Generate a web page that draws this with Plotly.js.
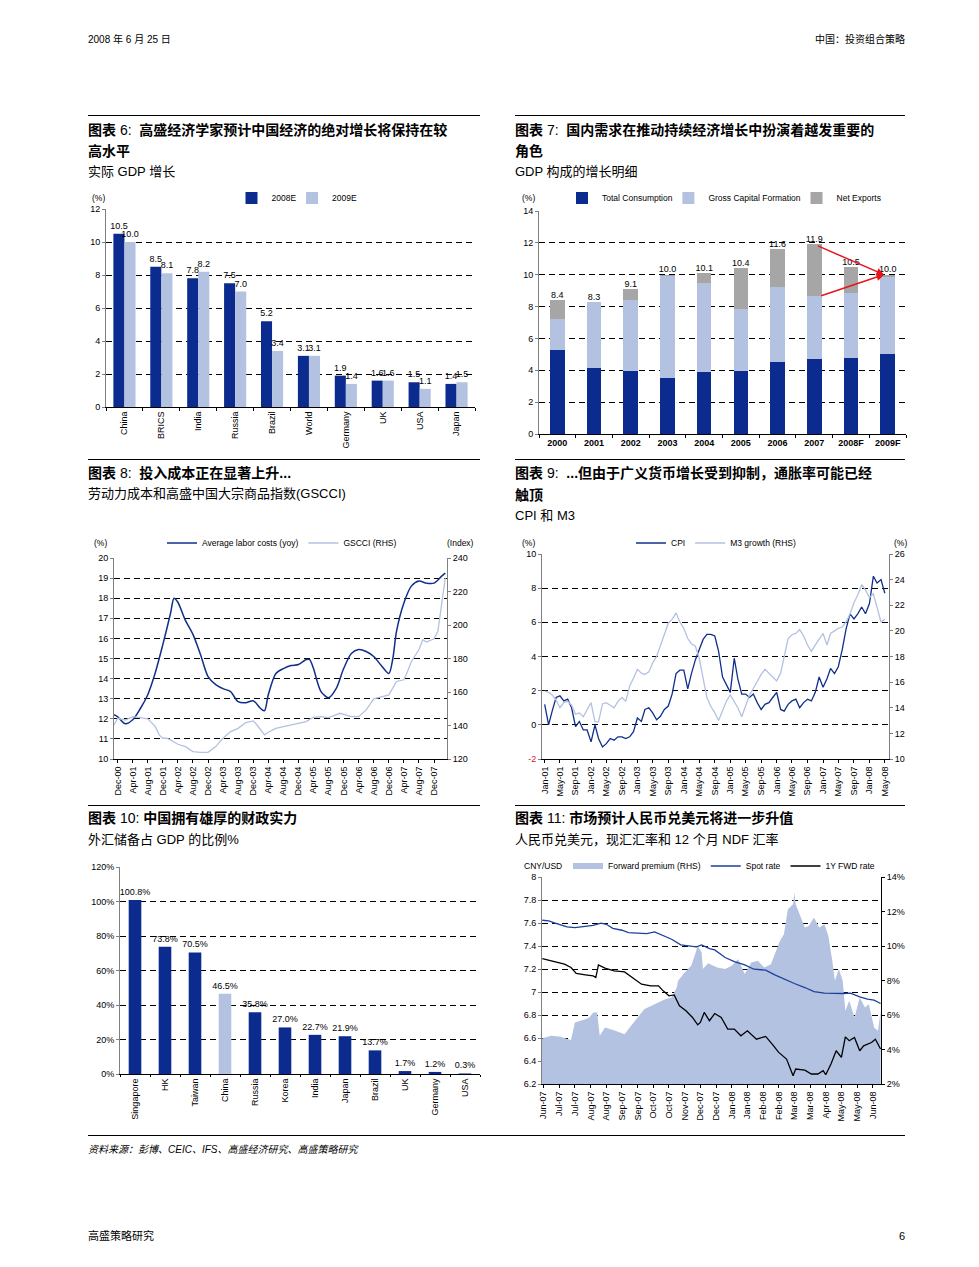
<!DOCTYPE html>
<html><head><meta charset="utf-8">
<script src="https://cdn.plot.ly/plotly-3.0.1.min.js"></script>
<style>
html,body{margin:0;padding:0;background:#fff;}
body{width:979px;height:1267px;position:relative;overflow:hidden;font-family:"Liberation Sans","Noto Sans CJK SC",sans-serif;color:#000;}
.t{position:absolute;white-space:nowrap;line-height:1;}
.b{font-weight:bold;font-size:14px;font-family:"Liberation Sans","Noto Sans CJK SC",sans-serif;}
.s{font-size:13px;}
.n{font-weight:normal;}
.r{position:absolute;border-top:1.6px solid #000;height:0;}
.c{position:absolute;}
</style></head><body>
<div class="t" style="left:88px;top:35px;font-size:10px;">2008 年 6 月 25 日</div>
<div class="t" style="right:74px;top:35px;font-size:10px;">中国：投资组合策略</div>

<div class="r" style="left:88px;top:115px;width:392px;"></div>
<div class="r" style="left:515px;top:115px;width:390px;"></div>
<div class="t b" style="left:88px;top:123px;">图表 <span class="n">6:</span>&nbsp; 高盛经济学家预计中国经济的绝对增长将保持在较</div>
<div class="t b" style="left:88px;top:144px;">高水平</div>
<div class="t s" style="left:88px;top:165px;">实际 GDP 增长</div>
<div class="t b" style="left:515px;top:123px;">图表 <span class="n">7:</span>&nbsp; 国内需求在推动持续经济增长中扮演着越发重要的</div>
<div class="t b" style="left:515px;top:144px;">角色</div>
<div class="t s" style="left:515px;top:165px;">GDP 构成的增长明细</div>

<div class="r" style="left:88px;top:459px;width:392px;"></div>
<div class="r" style="left:515px;top:459px;width:390px;"></div>
<div class="t b" style="left:88px;top:466px;">图表 <span class="n">8:</span>&nbsp; 投入成本正在显著上升...</div>
<div class="t s" style="left:88px;top:487px;">劳动力成本和高盛中国大宗商品指数(GSCCI)</div>
<div class="t b" style="left:515px;top:466px;">图表 <span class="n">9:</span>&nbsp; ...但由于广义货币增长受到抑制，通胀率可能已经</div>
<div class="t b" style="left:515px;top:488px;">触顶</div>
<div class="t s" style="left:515px;top:509px;">CPI 和 M3</div>

<div class="r" style="left:88px;top:805px;width:392px;"></div>
<div class="r" style="left:515px;top:805px;width:390px;"></div>
<div class="t b" style="left:88px;top:811px;">图表 <span class="n">10:</span> 中国拥有雄厚的财政实力</div>
<div class="t s" style="left:88px;top:833px;">外汇储备占 GDP 的比例%</div>
<div class="t b" style="left:515px;top:811px;">图表 <span class="n">11:</span> 市场预计人民币兑美元将进一步升值</div>
<div class="t s" style="left:515px;top:833px;">人民币兑美元，现汇汇率和 12 个月 NDF 汇率</div>

<div class="r" style="left:88px;top:1135px;width:817px;"></div>
<div class="t" style="left:88px;top:1145px;font-size:10px;font-style:italic;">资料来源：彭博、CEIC、IFS、高盛经济研究、高盛策略研究</div>
<div class="t" style="left:88px;top:1231px;font-size:11px;">高盛策略研究</div>
<div class="t" style="right:74px;top:1231px;font-size:11px;">6</div>

<div id="c6" class="c"></div>
<div id="c7" class="c"></div>
<div id="c8" class="c"></div>
<div id="c9" class="c"></div>
<div id="c10" class="c"></div>
<div id="c11" class="c"></div>

<script>
// ---------- DATA ----------
// Chart 6
const gdpCountries = ['China','BRICS','India','Russia','Brazil','World','Germany','UK','USA','Japan'];
const gdp2008E = [10.5,8.5,7.8,7.5,5.2,3.1,1.9,1.6,1.5,1.4];
const gdp2009E = [10.0,8.1,8.2,7.0,3.4,3.1,1.4,1.6,1.1,1.5];

// Chart 7
const gdpYears = ['2000','2001','2002','2003','2004','2005','2006','2007','2008F','2009F'];
const totalConsumption = [5.3,4.15,3.95,3.5,3.9,3.95,4.5,4.7,4.8,5.05];
const grossCapital = [1.9,4.15,4.45,6.4,5.55,3.9,4.7,3.95,4.05,4.8];
const netExports = [1.2,0.0,0.7,0.1,0.65,2.55,2.4,3.25,1.65,0.15];
const gdpTotal = [8.4,8.3,9.1,10.0,10.1,10.4,11.6,11.9,10.5,10.0];

// Chart 8
const laborMonths = ['2000-11','2000-12','2001-02','2001-04','2001-06','2001-08','2001-10','2001-12','2002-02','2002-03','2002-04','2002-06','2002-08','2002-10','2002-12','2003-02','2003-04','2003-06','2003-08','2003-10','2003-12','2004-02','2004-03','2004-04','2004-06','2004-08','2004-10','2004-12','2005-02','2005-03','2005-04','2005-06','2005-08','2005-10','2005-12','2006-02','2006-04','2006-06','2006-08','2006-10','2006-12','2007-01','2007-02','2007-04','2007-06','2007-08','2007-10','2007-12','2008-02','2008-03'];
const laborCost = [12.2,12.1,11.75,11.95,12.5,13.2,14.3,15.7,17.25,18.0,17.8,16.9,16.2,15.2,14.1,13.7,13.5,13.35,12.85,12.8,12.9,12.5,12.4,13.2,14.25,14.5,14.65,14.7,14.95,14.95,14.5,13.35,13.05,13.5,14.5,15.25,15.45,15.35,15.1,14.65,14.25,14.95,16.35,17.75,18.6,18.85,18.75,18.75,19.1,19.25];
const gscciMonths = ['2000-11','2000-12','2001-02','2001-04','2001-06','2001-08','2001-10','2001-11','2001-12','2002-01','2002-02','2002-04','2002-06','2002-08','2002-10','2002-12','2003-02','2003-04','2003-06','2003-08','2003-10','2003-12','2004-01','2004-03','2004-04','2004-06','2004-08','2004-10','2004-12','2005-02','2005-04','2005-06','2005-08','2005-10','2005-11','2005-12','2006-02','2006-04','2006-06','2006-08','2006-10','2006-12','2007-02','2007-04','2007-05','2007-06','2007-08','2007-09','2007-10','2007-12','2008-01','2008-02','2008-03'];
const gscci = [140.3,144.3,143.3,145.3,144.7,144,139.3,134.4,132.4,132.4,131.4,128.8,127.4,124.4,124,124,127.4,132.4,136.4,138.3,141.7,142.7,140.3,134.4,136,138.3,139.3,140.3,141.3,142.3,144.9,145.3,144.7,146.3,147.3,146.7,145.3,145.3,149.3,155.9,156.9,158.3,166.3,167.3,172.2,178.2,185.2,191.2,189.8,191.8,196.1,211.1,228];

// Chart 9 (monthly from Jan-01)
const cpi = [1.2,0.0,0.8,1.6,1.7,1.4,1.5,1.0,-0.1,0.2,-0.3,-0.3,
  -1.0,0.0,-0.8,-1.3,-1.1,-0.8,-0.9,-0.7,-0.7,-0.8,-0.7,-0.4,
  0.4,0.2,0.9,1.0,0.7,0.3,0.5,0.9,1.1,1.8,3.0,3.2,
  3.2,2.1,3.0,3.8,4.4,5.0,5.3,5.3,5.2,4.3,2.8,2.4,
  1.9,3.9,2.7,1.8,1.8,1.6,1.8,1.3,0.9,1.2,1.3,1.6,
  1.9,0.9,0.8,1.2,1.4,1.5,1.0,1.3,1.5,1.4,1.9,2.8,
  2.2,2.7,3.3,3.0,3.4,4.4,5.6,6.5,6.2,6.5,6.9,6.5,
  7.1,8.7,8.3,8.5,7.7];
const m3Growth = [15.3,15.2,15.0,14.6,14.0,14.4,14.5,14.2,13.5,13.6,13.3,13.8,
  14.4,12.9,12.9,14.3,14.4,14.2,14.0,14.5,14.8,14.5,15.7,16.3,
  17.0,16.7,16.6,16.8,17.5,18.0,18.9,19.8,20.6,20.9,21.4,20.7,
  20.2,19.4,19.0,18.8,17.9,16.3,14.8,14.1,13.6,13.0,13.7,14.5,
  15.0,14.5,14.0,13.3,14.2,15.0,15.5,16.1,16.6,17.0,16.7,16.4,
  16.1,16.7,17.9,19.4,19.7,19.8,20.1,19.6,18.9,18.4,18.9,19.3,
  19.8,18.9,19.8,20.0,20.2,20.3,20.7,21.3,22.2,22.8,23.6,23.2,
  22.6,22.9,21.9,20.7,20.9];
const cpiTickVals = [-2,0,2,4,6,8,10];
const cpiTickText = ['<span style="color:#e0141c">-2</span>','0','2','4','6','8','10'];

// Chart 10
const reserveCountries = ['Singapore','HK','Taiwan','China','Russia','Korea','India','Japan','Brazil','UK','Germany','USA'];
const reserveShare = [100.8,73.8,70.5,46.5,35.8,27.0,22.7,21.9,13.7,1.7,1.2,0.3];

// Chart 11 (x = trading-day index from mid-Jun-07)
const fxTickLabels = ['Jun-07','Jul-07','Jul-07','Aug-07','Aug-07','Sep-07','Sep-07','Oct-07','Oct-07','Nov-07','Dec-07','Dec-07','Jan-08','Jan-08','Feb-08','Feb-08','Mar-08','Mar-08','Apr-08','May-08','May-08','Jun-08'];
const spotDay = [-1,4,10,18,24,32,38,44,48,53,60,65,72,79,85,91,98,105,112,117,121,127,131,139,146,154,161,170,177,184,192,200,207,215,223,230,235,242,248,253,258];
const spotRate = [7.624,7.618,7.595,7.566,7.56,7.569,7.58,7.598,7.589,7.554,7.537,7.517,7.511,7.508,7.522,7.493,7.459,7.41,7.401,7.392,7.41,7.378,7.366,7.3,7.265,7.236,7.198,7.19,7.149,7.111,7.074,7.039,7.004,6.99,6.987,6.987,6.99,6.958,6.938,6.929,6.9];
const fwdDay = [-1,4,10,16,21,25,32,38,40,42,47,54,62,68,75,82,88,91,96,100,104,109,114,118,120,123,127,131,136,141,146,151,156,163,170,175,180,186,189,191,193,200,205,210,214,216,220,224,228,231,234,238,242,245,251,254,258];
const fwdRate = [7.291,7.276,7.256,7.242,7.213,7.161,7.149,7.14,7.126,7.236,7.207,7.184,7.175,7.126,7.068,7.054,7.054,7.016,6.967,6.975,6.88,6.836,6.779,6.715,6.735,6.822,6.75,6.813,6.779,6.677,6.677,6.619,6.663,6.59,6.614,6.547,6.475,6.417,6.33,6.272,6.33,6.321,6.287,6.287,6.316,6.281,6.373,6.489,6.431,6.61,6.576,6.605,6.489,6.532,6.561,6.59,6.504];
const premDay = [-2,1,6,13,19,21,24,32,35,38,41,43,47,55,62,67,72,77,85,93,98,102,103,108,113,116,118,121,122,126,130,133,139,144,149,154,159,164,169,174,177,181,184,187,191,192,193,196,200,203,207,211,215,218,221,223,226,229,231,234,238,242,246,249,253,256,258];
const fwdPremium = [4.6,4.7,4.8,4.74,4.6,4.55,5.57,5.76,5.86,6.15,6.15,4.8,5.28,5.09,4.89,5.38,5.86,6.34,6.63,6.92,7.02,7.59,7.98,8.46,8.85,9.52,10.0,9.62,8.66,9.0,8.85,8.75,8.66,8.85,9.23,8.37,9.04,9.14,8.75,8.94,9.52,10.3,10.68,12.13,12.42,13.1,12.42,11.84,11.07,11.16,11.65,11.07,11.26,10.58,9.14,7.98,8.66,7.98,6.24,6.82,5.86,7.02,6.44,6.63,5.28,5.09,6.24];

// ---------- STYLE / HELPERS ----------
const F = '"Liberation Sans", Arial, "Noto Sans CJK SC", sans-serif';
const NAVY = '#0b2c8e', LIGHT = '#b3c2e0', GREY = '#a6a6a6', RED = '#e8141c';
const TF = {size:9, family:F, color:'#000'};
const LF = {size:8.5, family:F, color:'#000'};
const CFG = {staticPlot:true, displayModeBar:false};
const DASH = '6px,4px';
const _cv = document.createElement('canvas').getContext('2d');
function textW(text, size){ _cv.font = size + 'px "Liberation Sans"'; return _cv.measureText(text).width; }
// tighter legend entry for square (bar / area) symbols
function sqW(name){ return Math.max(5, textW(name, LF.size) - 9); }

function place(id, d, box){
  const el = document.getElementById(id);
  el.style.left = d.left+'px'; el.style.top = d.top+'px';
  el.style.width = d.w+'px'; el.style.height = d.h+'px';
  return {l:box.x0-d.left, r:d.left+d.w-box.x1, t:box.y0-d.top, b:d.top+d.h-box.y1, pad:0, autoexpand:false};
}
function pp(box, px, py){ return {x:(px-box.x0)/(box.x1-box.x0), y:(box.y1-py)/(box.y1-box.y0)}; }
function pageText(box, text, px, py, xanchor){
  const p = pp(box, px, py);
  return {text:text, x:p.x, y:p.y, xref:'paper', yref:'paper', xanchor:xanchor||'left', yanchor:'middle', showarrow:false, font:LF};
}
function legendAt(box, px, py){
  const p = pp(box, px, py);
  return {orientation:'h', x:p.x, xanchor:'center', y:p.y, yanchor:'middle', font:LF, bgcolor:'rgba(0,0,0,0)', itemwidth:30, tracegroupgap:0, traceorder:'normal'};
}
function axis(extra){
  return Object.assign({showline:true, linecolor:'#808080', linewidth:1, ticks:'outside', ticklen:3, tickcolor:'#808080', tickfont:TF, showgrid:false, zeroline:false, fixedrange:true}, extra);
}
const GRID = {showgrid:true, gridcolor:'#000', gridwidth:1, griddash:DASH};
function base(id, d, box, extra){
  return Object.assign({width:d.w, height:d.h, margin:place(id, d, box), paper_bgcolor:'rgba(0,0,0,0)', plot_bgcolor:'rgba(0,0,0,0)', font:TF, showlegend:true}, extra);
}

// ---------- CHART 6 ----------
(function(){
  const d = {left:80, top:190, w:410, h:270}, box = {x0:106, x1:475, y0:209, y1:407};
  const fmt = a => a.map(v => v.toFixed(1));
  const traces = [
    {type:'bar', name:'2008E', x:gdpCountries, y:gdp2008E, marker:{color:NAVY}, text:fmt(gdp2008E), textposition:'outside', textfont:TF, cliponaxis:false, constraintext:'none', legendwidth:sqW('2008E')},
    {type:'bar', name:'2009E', x:gdpCountries, y:gdp2009E, marker:{color:LIGHT}, text:fmt(gdp2009E), textposition:'outside', textfont:TF, cliponaxis:false, constraintext:'none'}
  ];
  const layout = base('c6', d, box, {barmode:'group', bargap:0.4, bargroupgap:0,
    legend: legendAt(box, 297, 198),
    xaxis: axis({type:'category', tickangle:-90, linecolor:'#000', tickcolor:'#000', tickson:'boundaries'}),
    yaxis: axis(Object.assign({range:[0,12], dtick:2}, GRID)),
    annotations:[pageText(box, '(%)', 90, 198)]
  });
  Plotly.newPlot('c6', traces, layout, CFG);
})();

// ---------- CHART 7 ----------
(function(){
  const d = {left:505, top:190, w:410, h:270}, box = {x0:539, x1:906, y0:211, y1:434};
  const traces = [
    {type:'bar', name:'Total Consumption', x:gdpYears, y:totalConsumption, marker:{color:NAVY}, legendwidth:sqW('Total Consumption')},
    {type:'bar', name:'Gross Capital Formation', x:gdpYears, y:grossCapital, marker:{color:LIGHT}, legendwidth:sqW('Gross Capital Formation')},
    {type:'bar', name:'Net Exports', x:gdpYears, y:netExports, marker:{color:GREY}},
    {type:'scatter', mode:'text', x:gdpYears, y:gdpTotal, text:gdpTotal.map(v=>v.toFixed(1)), textposition:'top center', textfont:TF, showlegend:false, cliponaxis:false}
  ];
  const i07 = gdpYears.indexOf('2007'), i09 = gdpYears.indexOf('2009F');
  const arrowBase = {xref:'x', yref:'y', axref:'x', ayref:'y', showarrow:true, arrowhead:2, arrowsize:1, arrowwidth:1.5, arrowcolor:RED, text:''};
  const layout = base('c7', d, box, {barmode:'stack', bargap:0.6,
    legend: legendAt(box, 724, 198),
    xaxis: axis({type:'category', linecolor:'#000', tickcolor:'#000', tickson:'boundaries', tickfont:{size:9, family:F, color:'#000', weight:'bold'}}),
    yaxis: axis(Object.assign({range:[0,14], dtick:2}, GRID)),
    annotations:[pageText(box, '(%)', 520, 198),
      Object.assign({x:i09-0.1, y:gdpTotal[i09], ax:i07+0.06, ay:gdpTotal[i07]-0.05}, arrowBase),
      Object.assign({x:i09-0.1, y:gdpTotal[i09], ax:i07+0.15, ay:totalConsumption[i07]+grossCapital[i07]}, arrowBase)]
  });
  Plotly.newPlot('c7', traces, layout, CFG);
})();

// ---------- CHART 8 ----------
(function(){
  const d = {left:80, top:535, w:410, h:270}, box = {x0:114, x1:447, y0:558, y1:759};
  const traces = [
    {type:'scatter', mode:'lines', name:'Average labor costs (yoy)', x:laborMonths, y:laborCost, line:{color:'#102f8a', width:1.5, shape:'spline', smoothing:0.8}},
    {type:'scatter', mode:'lines', name:'GSCCI (RHS)', x:gscciMonths, y:gscci, yaxis:'y2', line:{color:LIGHT, width:1.3}}
  ];
  const layout = base('c8', d, box, {
    legend: legendAt(box, 282, 543),
    xaxis: axis({type:'date', range:['2000-11-01','2008-03-15'], tick0:'2000-12-01', dtick:'M4', tickformat:'%b-%y', tickangle:-90, linecolor:'#000', tickcolor:'#000'}),
    yaxis: axis(Object.assign({range:[10,20], dtick:1}, GRID)),
    yaxis2: axis({range:[120,240], dtick:20, overlaying:'y', side:'right'}),
    annotations:[pageText(box, '(%)', 92, 543), pageText(box, '(Index)', 476, 543, 'right')]
  });
  Plotly.newPlot('c8', traces, layout, CFG);
})();

// ---------- CHART 9 ----------
(function(){
  const d = {left:505, top:535, w:410, h:270}, box = {x0:542, x1:889, y0:554, y1:759};
  function months(n){ const out=[]; for(let i=0;i<n;i++){ const y=2001+Math.floor(i/12), m=i%12+1; out.push(y+'-'+(m<10?'0':'')+m+'-01'); } return out; }
  const traces = [
    {type:'scatter', mode:'lines', name:'CPI', x:months(cpi.length), y:cpi, line:{color:'#102f8a', width:1.3}},
    {type:'scatter', mode:'lines', name:'M3 growth (RHS)', x:months(m3Growth.length), y:m3Growth, yaxis:'y2', line:{color:LIGHT, width:1.3}}
  ];
  const layout = base('c9', d, box, {
    legend: legendAt(box, 716, 543),
    xaxis: axis({type:'date', range:['2000-12-11','2008-06-03'], tick0:'2001-01-01', dtick:'M4', tickformat:'%b-%y', tickangle:-90, linecolor:'#000', tickcolor:'#000'}),
    yaxis: axis(Object.assign({range:[-2,10], tickvals:cpiTickVals, ticktext:cpiTickText}, GRID)),
    yaxis2: axis({range:[10,26], dtick:2, overlaying:'y', side:'right'}),
    annotations:[pageText(box, '(%)', 520, 543), pageText(box, '(%)', 909, 543, 'right')]
  });
  Plotly.newPlot('c9', traces, layout, CFG);
})();

// ---------- CHART 10 ----------
(function(){
  const d = {left:80, top:855, w:410, h:275}, box = {x0:120, x1:480, y0:867, y1:1074};
  const traces = [
    {type:'bar', x:reserveCountries, y:reserveShare, marker:{color:reserveCountries.map(c => c==='China' ? LIGHT : NAVY)},
     text:reserveShare.map(v=>v.toFixed(1)+'%'), textposition:'outside', textfont:TF, cliponaxis:false, constraintext:'none', showlegend:false}
  ];
  const layout = base('c10', d, box, {bargap:0.58, showlegend:false,
    xaxis: axis({type:'category', tickangle:-90, linecolor:'#000', tickcolor:'#000', tickson:'boundaries', ticklen:2}),
    yaxis: axis(Object.assign({range:[0,120], dtick:20, ticksuffix:'%'}, GRID))
  });
  Plotly.newPlot('c10', traces, layout, CFG);
})();

// ---------- CHART 11 ----------
(function(){
  const d = {left:505, top:855, w:410, h:272}, box = {x0:542, x1:881, y0:877, y1:1084};
  const traces = [
    {type:'scatter', mode:'none', name:'Forward premium (RHS)', x:premDay, y:fwdPremium, fill:'tozeroy', fillcolor:LIGHT, line:{width:0}},
    {type:'scatter', mode:'lines', name:'Spot rate', x:spotDay, y:spotRate, yaxis:'y2', line:{color:'#1d3f9e', width:1.3}},
    {type:'scatter', mode:'lines', name:'1Y FWD rate', x:fwdDay, y:fwdRate, yaxis:'y2', line:{color:'#000', width:1.3}}
  ];
  const layout = base('c11', d, box, {
    legend: legendAt(box, 724, 866),
    xaxis: axis({range:[-1.2,258.3], tickvals:fxTickLabels.map((_,i)=>i*12), ticktext:fxTickLabels, tickangle:-90, linecolor:'#000', tickcolor:'#000'}),
    yaxis: axis({range:[2,14], dtick:2, ticksuffix:'%', side:'right', linecolor:'#000', tickcolor:'#000'}),
    yaxis2: axis(Object.assign({range:[6.2,8], dtick:0.2, overlaying:'y', side:'left'}, GRID)),
    annotations:[pageText(box, 'CNY/USD', 522, 866)]
  });
  Plotly.newPlot('c11', traces, layout, CFG);
})();
</script>
</body></html>
